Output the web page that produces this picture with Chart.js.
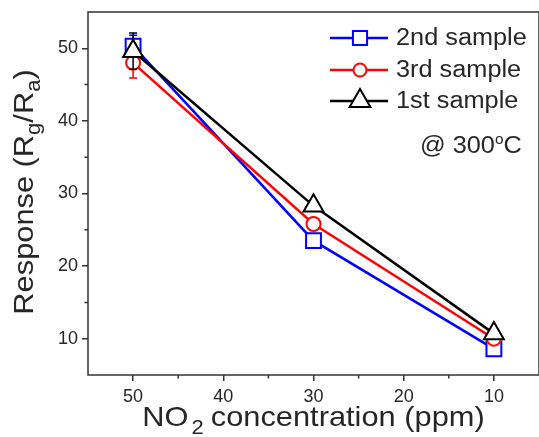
<!DOCTYPE html>
<html lang="en">
<head>
    <meta charset="UTF-8">
    <title>NO2 response</title>
    <style>
        body { margin: 0; padding: 0; background: #fff; }
        #wrap { width: 539px; height: 437px; }
    </style>
</head>
<body>
    <div id="wrap"><canvas id="chart" width="539" height="437"></canvas></div>

    <script src="https://cdn.jsdelivr.net/npm/chart.js"></script>
    <script>
        // NO2 concentration (ppm)
        const concentrations = [50, 30, 10];
        // response values per sample
        const sample2 = [50.3, 23.5, 8.6];
        const sample3 = [48.0, 25.8, 10.0];
        const sample1 = [49.6, 28.3, 10.7];
        // error bar half-widths
        const err2 = [1.5, 0.6, 0.6];
        const err3 = [2.1, 0.6, 0.6];
        const err1 = [2.5, 0.6, 0.6];
        const xTicks = [50, 40, 30, 20, 10];
        const yTicks = [10, 20, 30, 40, 50];
        const legendOrder = ['2nd sample', '3rd sample', '1st sample'];

        const textColor = '#262626';
        const fontFam = 'Liberation Sans, Arial, sans-serif';
        const stretch = 1.1; // the figure's text is a bit wide

        function pts(vals) {
            return concentrations.map((c, i) => ({ x: c, y: vals[i] }));
        }

        const datasets = [
            { label: '2nd sample', data: pts(sample2), err: err2, borderColor: '#0000ff', pointStyle: 'rect', pointRadius: 10.5, legendRadius: 10, order: 3 },
            { label: '3rd sample', data: pts(sample3), err: err3, borderColor: '#ff0000', pointStyle: 'circle', pointRadius: 7, legendRadius: 6.5, order: 2 },
            { label: '1st sample', data: pts(sample1), err: err1, borderColor: '#000000', pointStyle: 'triangle', pointRadius: 11.5, legendRadius: 12, order: 1 }
        ].map(d => Object.assign(d, {
            borderWidth: 2.5,
            pointBorderWidth: 2,
            pointBackgroundColor: '#ffffff',
            pointBorderColor: d.borderColor,
            tension: 0
        }));

        // error bars, drawn under the markers of each dataset
        const errorBars = {
            id: 'errorBars',
            beforeDatasetDraw(chart, args) {
                const ds = chart.data.datasets[args.index];
                const x = chart.scales.x, y = chart.scales.y;
                const ctx = chart.ctx;
                ctx.save();
                ctx.strokeStyle = ds.borderColor;
                ctx.lineWidth = 1.5;
                ds.data.forEach((p, i) => {
                    const px = x.getPixelForValue(p.x);
                    const top = y.getPixelForValue(p.y + ds.err[i]);
                    const bot = y.getPixelForValue(p.y - ds.err[i]);
                    ctx.beginPath();
                    ctx.moveTo(px, top); ctx.lineTo(px, bot);
                    ctx.moveTo(px - 4, top); ctx.lineTo(px + 4, top);
                    ctx.moveTo(px - 4, bot); ctx.lineTo(px + 4, bot);
                    ctx.stroke();
                });
                ctx.restore();
            }
        };

        // text runs: [text, size, dy, gapAfter], stretched horizontally
        function runsWidth(ctx, parts) {
            let w = 0;
            parts.forEach(p => {
                ctx.font = p[1] + 'px ' + fontFam;
                w += ctx.measureText(p[0]).width * stretch + (p[3] || 0);
            });
            return w;
        }
        function drawRuns(ctx, parts, x, y) {
            parts.forEach(p => {
                ctx.font = p[1] + 'px ' + fontFam;
                ctx.save();
                ctx.translate(x, y + p[2]);
                ctx.scale(stretch, 1);
                ctx.fillText(p[0], 0, 0);
                ctx.restore();
                x += ctx.measureText(p[0]).width * stretch + (p[3] || 0);
            });
        }

        // frame, minor ticks, axis titles, legend and annotation
        const decorations = {
            id: 'decorations',
            afterDraw(chart) {
                const ctx = chart.ctx;
                const a = chart.chartArea;
                const x = chart.scales.x, y = chart.scales.y;
                ctx.save();

                // frame
                ctx.strokeStyle = '#333';
                ctx.lineWidth = 1.5;
                ctx.strokeRect(a.left, a.top, a.right - a.left, a.bottom - a.top);

                // minor ticks
                ctx.beginPath();
                [45, 35, 25, 15].forEach(v => {
                    const px = x.getPixelForValue(v);
                    ctx.moveTo(px, a.bottom); ctx.lineTo(px, a.bottom + 3.5);
                    const py = y.getPixelForValue(v);
                    ctx.moveTo(a.left, py); ctx.lineTo(a.left - 3.5, py);
                });
                ctx.stroke();

                ctx.fillStyle = textColor;
                ctx.textBaseline = 'alphabetic';

                // x title: NO2 concentration (ppm)
                const xparts = [['NO', 28, 0, 3], ['2', 20, 8, 7], ['concentration (ppm)', 28, 0]];
                let w = runsWidth(ctx, xparts);
                drawRuns(ctx, xparts, (a.left + a.right) / 2 - w / 2, 426);

                // y title: Response (Rg/Ra)
                ctx.save();
                ctx.translate(33, 192);
                ctx.rotate(-Math.PI / 2);
                const yparts = [['Response (R', 28, 0], ['g', 20, 7], ['/R', 28, 0], ['a', 20, 7], [')', 28, 0]];
                w = runsWidth(ctx, yparts);
                drawRuns(ctx, yparts, -w / 2, 0);
                ctx.restore();

                // legend
                const rows = [38, 70, 101];
                legendOrder.forEach((name, i) => {
                    const ds = chart.data.datasets.find(d => d.label === name);
                    const ly = rows[i];
                    ctx.strokeStyle = ds.borderColor;
                    ctx.lineWidth = 2.5;
                    ctx.beginPath();
                    ctx.moveTo(330, ly); ctx.lineTo(388, ly);
                    ctx.stroke();
                    ctx.fillStyle = '#fff';
                    ctx.lineWidth = 2;
                    Chart.helpers.drawPoint(ctx, {
                        pointStyle: ds.pointStyle,
                        radius: ds.legendRadius,
                        rotation: 0,
                        borderWidth: 2
                    }, 360, ly);
                    ctx.fillStyle = textColor;
                    ctx.textBaseline = 'middle';
                    drawRuns(ctx, [[name, 23, 1]], 396, ly);
                });

                // @ 300 oC
                ctx.textBaseline = 'alphabetic';
                drawRuns(ctx, [['@ 300', 23, 0], ['o', 14, -9], ['C', 23, 0]], 420, 153);

                ctx.restore();
            }
        };

        const tickFont = { family: fontFam, size: 18 };

        new Chart(document.getElementById('chart').getContext('2d'), {
            type: 'line',
            data: { datasets: datasets },
            options: {
                responsive: false,
                animation: false,
                layout: { autoPadding: false, padding: { top: 12, right: 0, left: 0, bottom: 0 } },
                plugins: { legend: { display: false }, tooltip: { enabled: false } },
                scales: {
                    x: {
                        type: 'linear',
                        reverse: true,
                        min: 5,
                        max: 55,
                        afterBuildTicks: s => { s.ticks = xTicks.map(v => ({ value: v })); },
                        afterFit: s => { s.height = 62; s.paddingLeft = 0; s.paddingRight = 0; },
                        grid: { drawOnChartArea: false, tickLength: 6, color: '#333', lineWidth: 1.5 },
                        border: { display: false },
                        ticks: { color: textColor, font: tickFont, padding: 5 }
                    },
                    y: {
                        min: 5,
                        max: 55,
                        afterBuildTicks: s => { s.ticks = yTicks.map(v => ({ value: v })); },
                        afterFit: s => { s.width = 88; s.paddingTop = 0; s.paddingBottom = 0; },
                        grid: { drawOnChartArea: false, tickLength: 6, color: '#333', lineWidth: 1.5 },
                        border: { display: false },
                        ticks: { color: textColor, font: tickFont, padding: 4 }
                    }
                }
            },
            plugins: [errorBars, decorations]
        });
    </script>
</body>
</html>
